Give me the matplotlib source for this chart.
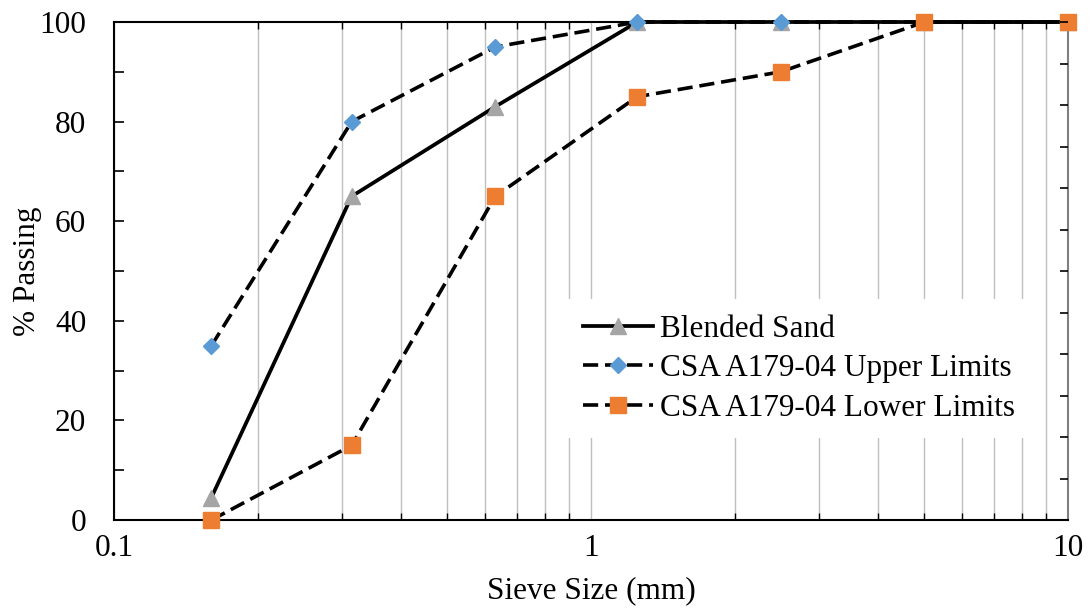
import matplotlib
matplotlib.use("Agg")
import matplotlib.pyplot as plt
from matplotlib.ticker import LogLocator, NullFormatter, FixedLocator, MultipleLocator

plt.rcParams['font.family'] = ['Liberation Serif', 'DejaVu Serif']

sieve = [0.16, 0.315, 0.63, 1.25, 2.5, 5, 10]
blended = [4.5, 65, 83, 100, 100, 100, 100]
upper = [35, 80, 95, 100, 100, 100, 100]
lower = [0, 15, 65, 85, 90, 100, 100]
xtick_labels = ["0.1", "1", "10"]

fig = plt.figure(figsize=(10.9, 6.08), dpi=100)
ax = fig.add_axes([0.1046, 0.1447, 0.8752, 0.8191])

fs = 22.5
dash = (4.2, 1.9)
l1, = ax.plot(sieve, blended, color='black', lw=2.7, marker='^', ms=11,
              mfc='#A5A5A5', mec='#A5A5A5', clip_on=False, zorder=3,
              label='Blended Sand')
l2, = ax.plot(sieve, upper, color='black', lw=2.6, ls=(0, dash), marker='D', ms=8,
              mfc='#5B9BD5', mec='#5B9BD5', clip_on=False, zorder=4,
              label='CSA A179-04 Upper Limits')
l3, = ax.plot(sieve, lower, color='black', lw=2.6, ls=(0, dash), marker='s', ms=11,
              mfc='#ED7D31', mec='#ED7D31', clip_on=False, zorder=5,
              label='CSA A179-04 Lower Limits')

ax.set_xscale('log')
ax.set_xlim(0.1, 10)
ax.set_ylim(0, 100)
ax.xaxis.set_major_locator(FixedLocator([0.1, 1, 10]))
ax.set_xticklabels(xtick_labels)
ax.xaxis.set_minor_locator(LogLocator(base=10, subs=range(2, 10)))
ax.xaxis.set_minor_formatter(NullFormatter())
ax.yaxis.set_major_locator(MultipleLocator(20))
ax.yaxis.set_minor_locator(MultipleLocator(10))

ax.grid(True, which='both', axis='x', color='#BFBFBF', lw=1.0, zorder=0)
ax.set_axisbelow(True)

ax.tick_params(axis='y', which='both', direction='in', length=7, width=1.2,
               labelsize=fs, pad=20, right=False)
ax.tick_params(axis='x', which='major', direction='in', length=0, labelsize=fs, pad=10)
ax.tick_params(axis='x', which='minor', direction='in', length=5, width=1, top=True, bottom=True)

for s in ['left', 'bottom', 'top']:
    ax.spines[s].set_linewidth(1.5)
    ax.spines[s].set_color('black')
ax.spines['right'].set_color('#808080')
ax.spines['right'].set_linewidth(1.5)

ax2 = ax.twinx()
ax2.set_ylim(0, 1.2)
ax2.yaxis.set_major_locator(MultipleLocator(0.1))
ax2.tick_params(axis='y', direction='in', length=6, width=1.2, labelright=False)
for s in ['left', 'bottom', 'top', 'right']:
    ax2.spines[s].set_visible(False)

ax.set_xlabel('Sieve Size (mm)', fontsize=fs)
ax.xaxis.set_label_coords(0.5, -0.112)
ax.set_ylabel('% Passing', fontsize=fs)
ax.yaxis.set_label_coords(-0.075, 0.5)

leg = ax2.legend(handles=[l1, l2, l3], loc='upper left', bbox_to_anchor=(0.4749, 0.444),
                 fontsize=fs, frameon=True, facecolor='white', edgecolor='none',
                 framealpha=1, handlelength=2.25, handletextpad=0.22,
                 labelspacing=0.34, borderpad=0.5, borderaxespad=0, fancybox=False)
leg.set_zorder(10)

fig.savefig('out.png', dpi=100)
